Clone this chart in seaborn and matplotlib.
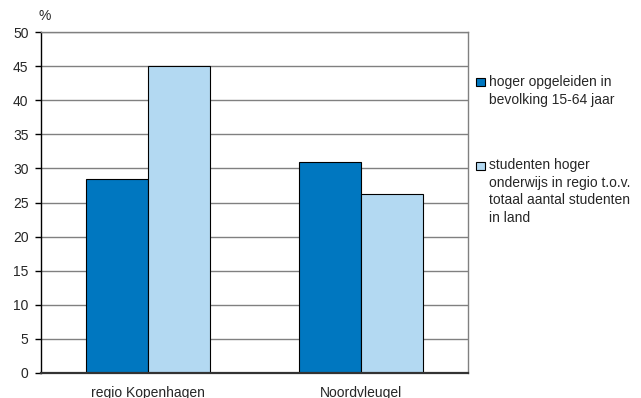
import pandas as pd
import matplotlib.pyplot as plt
import seaborn as sns
from matplotlib.patches import Rectangle

# data
regions = ["regio Kopenhagen", "Noordvleugel"]
series_names = ["hoger opgeleiden in\nbevolking 15-64 jaar",
                "studenten hoger\nonderwijs in regio t.o.v.\ntotaal aantal studenten\nin land"]
hoger_opgeleiden = [28.5, 31.0]
studenten = [45.0, 26.2]
colors = ["#0077C0", "#B3D9F2"]

df = pd.DataFrame({
    "Regio": regions * 2,
    "Serie": [series_names[0]] * 2 + [series_names[1]] * 2,
    "Waarde": hoger_opgeleiden + studenten,
})

sns.set_style("white")
plt.rcParams["font.family"] = ["Liberation Sans", "DejaVu Sans"]
plt.rcParams["font.size"] = 10

fig = plt.figure(figsize=(6.41, 3.98), dpi=100)
ax = fig.add_axes([41 / 641, 25 / 398, (468 - 41) / 641, (373 - 32) / 398])

sns.barplot(data=df, x="Regio", y="Waarde", hue="Serie", palette=colors,
            saturation=1, width=0.58, edgecolor="black", linewidth=0.8,
            legend=False, zorder=3, ax=ax)

ax.set_xlim(-0.5, 1.5)
ax.set_ylim(0, 50)
ax.set_yticks(range(0, 51, 5))
ax.grid(axis="y", color="#808080", linewidth=1.0, zorder=0)
ax.set_axisbelow(True)
ax.set_xlabel("")
ax.set_ylabel("")

for side in ["top", "right"]:
    ax.spines[side].set_color("#808080")
    ax.spines[side].set_linewidth(1.0)
ax.spines["left"].set_color("black")
ax.spines["left"].set_linewidth(1.0)
ax.spines["bottom"].set_color("#333333")
ax.spines["bottom"].set_linewidth(1.6)
ax.spines["bottom"].set_zorder(4)

ax.tick_params(axis="y", left=True, length=4, width=1, color="black",
               direction="out", pad=5, labelsize=10)
ax.tick_params(axis="x", bottom=False, pad=5.5, labelsize=10)

ax.text(-0.007, 1.025, "%", transform=ax.transAxes, ha="left", va="bottom",
        fontsize=10)

# legend drawn by hand to match the layout of the original
legend_items = [(colors[0], series_names[0], 82, 75),
                (colors[1], series_names[1], 166, 158)]
for color, label, ymid, ytext in legend_items:
    fig.patches.append(Rectangle((476 / 641, 1 - (ymid + 4) / 398), 9 / 641, 8 / 398,
                                 transform=fig.transFigure, facecolor=color,
                                 edgecolor="black", linewidth=0.8))
    fig.text(489 / 641, 1 - ytext / 398, label, ha="left", va="top",
             fontsize=10, linespacing=1.32)

fig.savefig("out.png", dpi=100)
